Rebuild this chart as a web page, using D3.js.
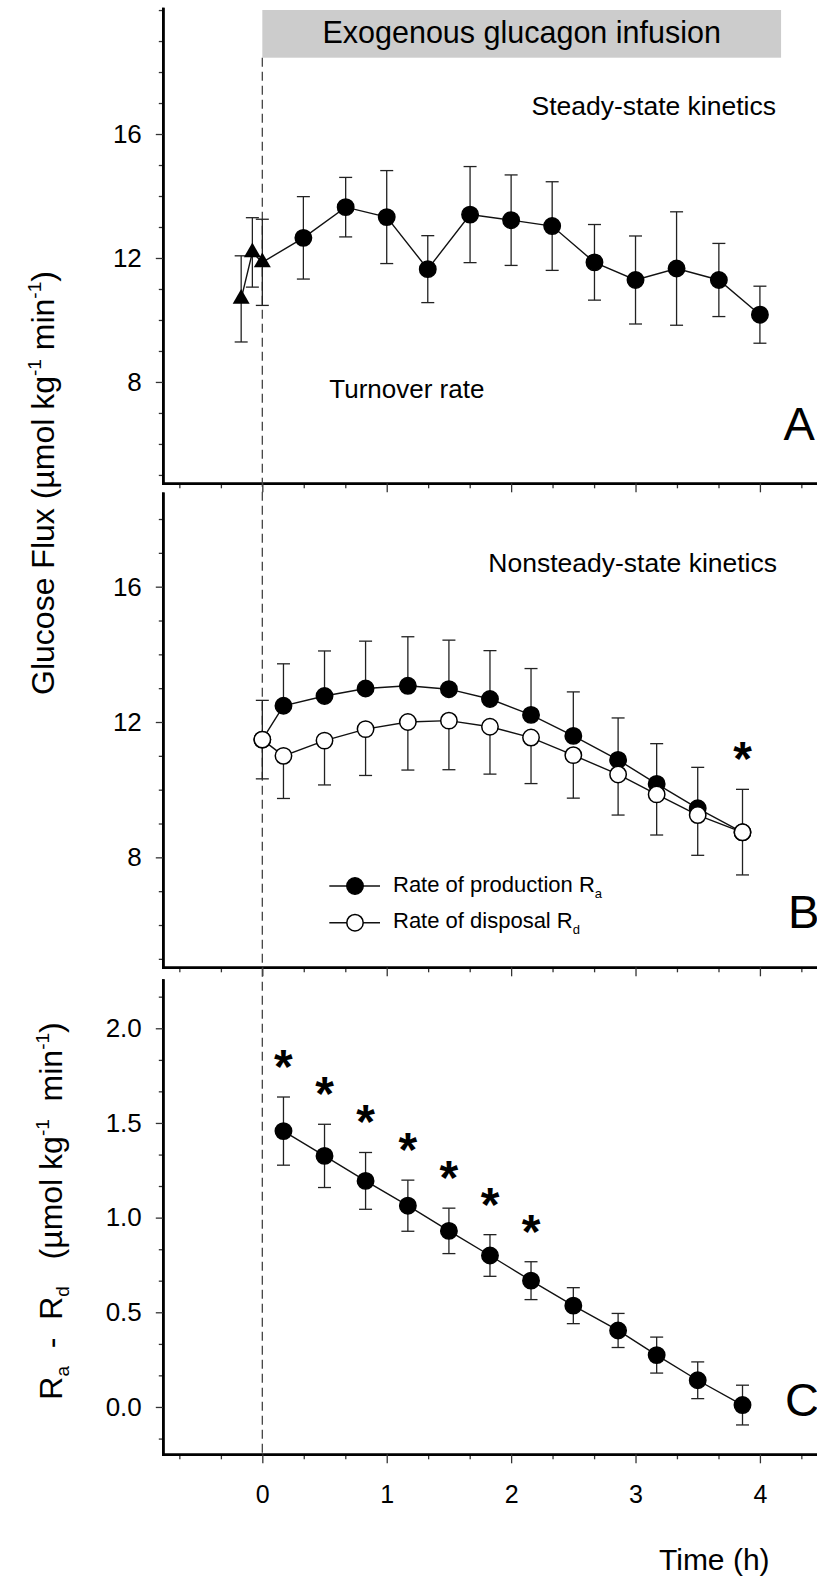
<!DOCTYPE html>
<html><head><meta charset="utf-8">
<script src="https://cdn.jsdelivr.net/npm/d3@7"></script>
<style>
body{margin:0;background:#fff;}
svg{display:block;}
text{font-family:"Liberation Sans", Arial, Helvetica, sans-serif;fill:#000;}
.pre{white-space:pre;}
</style></head><body>
<svg id="chart" width="817" height="1585"></svg>
<script>
// ---------------- data ----------------
// Panel A: steady-state kinetics (turnover rate)
const basalTime = [-0.17, -0.08, 0.0];
const basalFlux = [10.68, 12.18, 11.86];
const basalSE   = [1.39, 1.12, 1.39];
const ssTime = [0.33, 0.67, 1.0, 1.33, 1.67, 2.0, 2.33, 2.67, 3.0, 3.33, 3.67, 4.0];
const ssFlux = [12.65, 13.64, 13.32, 11.64, 13.40, 13.22, 13.03, 11.86, 11.29, 11.66, 11.29, 10.17];
const ssSE   = [1.33, 0.96, 1.50, 1.08, 1.55, 1.46, 1.43, 1.22, 1.42, 1.83, 1.18, 0.92];

// Panel B: nonsteady-state kinetics
const nsTime = [0, 0.17, 0.5, 0.83, 1.17, 1.5, 1.83, 2.16, 2.5, 2.86, 3.17, 3.5, 3.86];
const raFlux = [11.48, 12.48, 12.77, 12.99, 13.07, 12.97, 12.68, 12.21, 11.59, 10.88, 10.17, 9.45, 8.74];
const raSE   = [1.16, 1.24, 1.33, 1.40, 1.45, 1.45, 1.43, 1.37, 1.30, 1.24, 1.19, 1.21, 1.27];
const rdFlux = [11.48, 11.00, 11.45, 11.79, 12.00, 12.04, 11.86, 11.54, 11.02, 10.45, 9.86, 9.25, 8.74];
const rdSE   = [1.16, 1.26, 1.31, 1.37, 1.42, 1.45, 1.40, 1.36, 1.27, 1.20, 1.20, 1.19, 1.26];
const nsStars = [12];

// Panel C: Ra - Rd
const diffTime = [0.17, 0.5, 0.83, 1.17, 1.5, 1.83, 2.16, 2.5, 2.86, 3.17, 3.5, 3.86];
const diffFlux = [1.457, 1.326, 1.194, 1.063, 0.930, 0.800, 0.667, 0.535, 0.404, 0.274, 0.141, 0.010];
const diffSE   = [0.180, 0.167, 0.150, 0.135, 0.120, 0.110, 0.100, 0.095, 0.090, 0.095, 0.097, 0.105];
const diffStars = [0, 1, 2, 3, 4, 5, 6];

// infusion period
const infusion = [0, 4.17];

// ticks
const xMajor = [0, 1, 2, 3, 4];
const xMinor = [-0.667, -0.333, 0.333, 0.667, 1.333, 1.667, 2.333, 2.667, 3.333, 3.667, 4.333];
const yMajorAB = [8, 12, 16];
const yMinorA = [5, 6, 7, 9, 10, 11, 13, 14, 15, 17, 18, 19, 20];
const yMinorB = [5, 6, 7, 9, 10, 11, 13, 14, 15, 17, 18];
const yMajorC = [0, 0.5, 1.0, 1.5, 2.0];
const yMinorC = [-0.167, 0.167, 0.333, 0.667, 0.833, 1.167, 1.333, 1.667, 1.833, 2.167];

const legendItems = [
  {name: "Rate of production R", sub: "a", fill: "#000"},
  {name: "Rate of disposal R", sub: "d", fill: "#fff"}
];

// ---------------- scales ----------------
const svg = d3.select("#chart");
svg.append("rect").attr("width", 817).attr("height", 1585).attr("fill", "#fff");

const x = d3.scaleLinear().domain([-0.8, 4.5]).range([162.8, 162.8 + 5.3 * 124.4]);
const yA = d3.scaleLinear().domain([4.73, 20.05]).range([483.3, 8.5]);
const yB = d3.scaleLinear().domain([4.75, 18.76]).range([967.3, 493.3]);
const yC = d3.scaleLinear().domain([-0.25, 2.255]).range([1454.3, 980]);

const FONT_TICK = 26;

function styleAxis(g) {
  g.select(".domain").attr("stroke", "#000").attr("stroke-width", 2.6).attr("stroke-linecap", "square");
  g.selectAll(".tick line").attr("stroke", "#333").attr("stroke-width", 1.3);
  g.selectAll(".tick text").attr("font-size", FONT_TICK).attr("fill", "#000")
    .attr("font-family", '"Liberation Sans", Arial, sans-serif');
}

function drawAxes(y, majors, minors, fmt, xLabels) {
  const bottom = y.range()[0];
  svg.append("g").attr("transform", `translate(0,${bottom})`)
    .call(d3.axisBottom(x).tickValues(xMinor).tickSize(5).tickSizeOuter(0).tickFormat(""))
    .call(styleAxis);
  const gx = svg.append("g").attr("transform", `translate(0,${bottom})`)
    .call(d3.axisBottom(x).tickValues(xMajor).tickSize(9).tickSizeOuter(0).tickPadding(22)
      .tickFormat(xLabels ? d3.format("d") : ""))
    .call(styleAxis);
  gx.selectAll(".tick text").attr("font-size", 25);
  svg.append("g").attr("transform", `translate(${x.range()[0]},0)`)
    .call(d3.axisLeft(y).tickValues(minors).tickSize(4).tickSizeOuter(0).tickFormat(""))
    .call(styleAxis);
  svg.append("g").attr("transform", `translate(${x.range()[0]},0)`)
    .call(d3.axisLeft(y).tickValues(majors).tickSize(7).tickSizeOuter(0).tickPadding(14).tickFormat(fmt))
    .call(styleAxis);
}

// ---------------- infusion bar + dashed line ----------------
const barTop = 10, barBottom = 57.7;
svg.append("rect")
  .attr("x", x(infusion[0])).attr("y", barTop)
  .attr("width", x(infusion[1]) - x(infusion[0])).attr("height", barBottom - barTop)
  .attr("fill", "#cccccc");
svg.append("text")
  .attr("x", (x(infusion[0]) + x(infusion[1])) / 2).attr("y", 43.3)
  .attr("text-anchor", "middle").attr("font-size", 30.5)
  .text("Exogenous glucagon infusion");

drawAxes(yA, yMajorAB, yMinorA, d3.format("d"), false);
drawAxes(yB, yMajorAB, yMinorB, d3.format("d"), false);
drawAxes(yC, yMajorC, yMinorC, d3.format(".1f"), true);

svg.append("line")
  .attr("x1", x(0)).attr("x2", x(0))
  .attr("y1", barBottom).attr("y2", yC.range()[0])
  .attr("stroke", "#444").attr("stroke-width", 1.3).attr("stroke-dasharray", "9,5");

// ---------------- helpers ----------------
const CAP = 6.5;
function errorBars(t, v, se, y, dir) {
  const g = svg.append("g").attr("stroke", "#222").attr("stroke-width", 1.3).attr("fill", "none");
  t.forEach((ti, i) => {
    const top = dir === "down" ? v[i] : v[i] + se[i];
    const bot = dir === "up" ? v[i] : v[i] - se[i];
    g.append("line").attr("x1", x(ti)).attr("x2", x(ti)).attr("y1", y(top)).attr("y2", y(bot));
    if (dir !== "down") g.append("line").attr("x1", x(ti) - CAP).attr("x2", x(ti) + CAP).attr("y1", y(top)).attr("y2", y(top));
    if (dir !== "up") g.append("line").attr("x1", x(ti) - CAP).attr("x2", x(ti) + CAP).attr("y1", y(bot)).attr("y2", y(bot));
  });
}
function seriesLine(t, v, y) {
  const pts = t.map((ti, i) => [ti, v[i]]);
  svg.append("path").datum(pts)
    .attr("d", d3.line().x(d => x(d[0])).y(d => y(d[1])))
    .attr("fill", "none").attr("stroke", "#111").attr("stroke-width", 1.4);
}
function circles(t, v, y, fill) {
  svg.append("g").selectAll("circle").data(t).join("circle")
    .attr("cx", d => x(d)).attr("cy", (d, i) => y(v[i])).attr("r", 8.2)
    .attr("fill", fill).attr("stroke", "#000").attr("stroke-width", 1.5);
}
function stars(idx, t, v, se, y) {
  svg.append("g").selectAll("text").data(idx).join("text")
    .attr("x", i => x(t[i])).attr("y", i => y(v[i] + se[i]) - 41 + 27)
    .attr("text-anchor", "middle").attr("font-size", 48).attr("font-weight", "bold")
    .text("*");
}

// ---------------- Panel A ----------------
errorBars(basalTime, basalFlux, basalSE, yA, "both");
errorBars(ssTime, ssFlux, ssSE, yA, "both");
seriesLine(basalTime.concat(ssTime), basalFlux.concat(ssFlux), yA);
svg.append("g").selectAll("path").data(basalTime).join("path")
  .attr("transform", (d, i) => `translate(${x(d)},${yA(basalFlux[i])})`)
  .attr("d", d3.symbol(d3.symbolTriangle, 125))
  .attr("fill", "#000");
circles(ssTime, ssFlux, yA, "#000");

svg.append("text").attr("x", 776).attr("y", 115).attr("text-anchor", "end").attr("font-size", 26.5)
  .text("Steady-state kinetics");
svg.append("text").attr("x", 329.3).attr("y", 397.7).attr("font-size", 26)
  .text("Turnover rate");
svg.append("text").attr("x", 783.5).attr("y", 440).attr("font-size", 47).text("A");

// ---------------- Panel B ----------------
errorBars(nsTime, raFlux, raSE, yB, "up");
errorBars(nsTime, rdFlux, rdSE, yB, "down");
seriesLine(nsTime, raFlux, yB);
seriesLine(nsTime, rdFlux, yB);
circles(nsTime, raFlux, yB, "#000");
circles(nsTime, rdFlux, yB, "#fff");
stars(nsStars, nsTime, raFlux, raSE, yB);

svg.append("text").attr("x", 777).attr("y", 571.7).attr("text-anchor", "end").attr("font-size", 26.5)
  .text("Nonsteady-state kinetics");
svg.append("text").attr("x", 788).attr("y", 928).attr("font-size", 47).text("B");

// legend
const leg = svg.append("g");
legendItems.forEach((it, i) => {
  const cy = 886 + i * 36.7;
  leg.append("line").attr("x1", 329.3).attr("x2", 380).attr("y1", cy).attr("y2", cy)
    .attr("stroke", "#111").attr("stroke-width", 1.4);
  leg.append("circle").attr("cx", 355).attr("cy", cy).attr("r", 8.2)
    .attr("fill", it.fill).attr("stroke", "#000").attr("stroke-width", 1.5);
  const tx = leg.append("text").attr("x", 393).attr("y", cy + 5.5).attr("font-size", 22);
  tx.append("tspan").text(it.name);
  tx.append("tspan").attr("font-size", 13).attr("dy", 6).text(it.sub);
});

// ---------------- Panel C ----------------
errorBars(diffTime, diffFlux, diffSE, yC, "both");
seriesLine(diffTime, diffFlux, yC);
circles(diffTime, diffFlux, yC, "#000");
stars(diffStars, diffTime, diffFlux, diffSE, yC);
svg.append("text").attr("x", 785).attr("y", 1416).attr("font-size", 47).text("C");

svg.append("text").attr("x", 659).attr("y", 1570).attr("font-size", 30).text("Time (h)");

// ---------------- y labels ----------------
const lab1 = svg.append("text").attr("class", "pre")
  .attr("transform", `translate(54,483) rotate(-90)`)
  .attr("text-anchor", "middle").attr("font-size", 32);
lab1.append("tspan").text("Glucose Flux (\u00B5mol kg");
lab1.append("tspan").attr("font-size", 19).attr("dy", -13).text("-1");
lab1.append("tspan").attr("dy", 13).text(" min");
lab1.append("tspan").attr("font-size", 19).attr("dy", -13).text("-1");
lab1.append("tspan").attr("dy", 13).text(")");

const lab2 = svg.append("text").attr("class", "pre")
  .attr("transform", `translate(62,1211) rotate(-90)`)
  .attr("text-anchor", "middle").attr("font-size", 32);
lab2.append("tspan").text("R");
lab2.append("tspan").attr("font-size", 19).attr("dy", 7).text("a");
lab2.append("tspan").attr("dy", -7).text("  -  R");
lab2.append("tspan").attr("font-size", 19).attr("dy", 7).text("d");
lab2.append("tspan").attr("dy", -7).text("   (\u00B5mol kg");
lab2.append("tspan").attr("font-size", 19).attr("dy", -13).text("-1");
lab2.append("tspan").attr("dy", 13).text("  min");
lab2.append("tspan").attr("font-size", 19).attr("dy", -13).text("-1");
lab2.append("tspan").attr("dy", 13).text(")");
</script>
</body></html>
